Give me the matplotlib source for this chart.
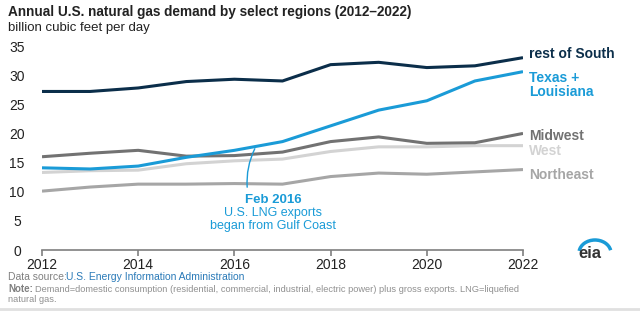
import matplotlib.pyplot as plt
import numpy as np
from matplotlib.patches import Arc

plt.rcParams['font.family'] = ['Liberation Sans', 'DejaVu Sans']

# datos (bcf/d)
anios = [2012, 2013, 2014, 2015, 2016, 2017, 2018, 2019, 2020, 2021, 2022]
resto_sur = [27.2, 27.2, 27.8, 28.9, 29.3, 29.0, 31.8, 32.2, 31.3, 31.6, 33.0]
texas_louisiana = [14.1, 13.9, 14.4, 15.9, 17.1, 18.6, 21.3, 24.0, 25.6, 29.0, 30.6]
medio_oeste = [16.0, 16.6, 17.1, 16.1, 16.2, 16.8, 18.6, 19.4, 18.3, 18.4, 20.0]
oeste = [13.3, 13.6, 13.7, 14.8, 15.3, 15.6, 16.9, 17.7, 17.7, 17.9, 17.9]
noreste = [10.1, 10.8, 11.3, 11.3, 11.4, 11.3, 12.6, 13.2, 13.0, 13.4, 13.8]
ticks_x = [2012, 2014, 2016, 2018, 2020, 2022]
ticks_y = [0, 5, 10, 15, 20, 25, 30, 35]

c_sur = '#0b2e4a'
c_tx = '#1a9bd7'
c_mw = '#727272'
c_w = '#d3d3d3'
c_ne = '#a6a6a6'

fig = plt.figure(figsize=(6.4, 3.14), dpi=100)
ax = fig.add_axes([42/640, 1-250/314, (523-42)/640, (250-46)/314])

ax.plot(anios, noreste, color=c_ne, lw=2.2, solid_capstyle='butt')
ax.plot(anios, oeste, color=c_w, lw=2.2, solid_capstyle='butt')
ax.plot(anios, medio_oeste, color=c_mw, lw=2.2, solid_capstyle='butt')
ax.plot(anios, texas_louisiana, color=c_tx, lw=2.2, solid_capstyle='butt')
ax.plot(anios, resto_sur, color=c_sur, lw=2.2, solid_capstyle='butt')

ax.set_xlim(2012, 2022)
ax.set_ylim(0, 35)
ax.set_xticks(ticks_x)
ax.set_yticks(ticks_y)
for s in ['top', 'right', 'left']:
    ax.spines[s].set_visible(False)
ax.spines['bottom'].set_color('#7f7f7f')
ax.spines['bottom'].set_linewidth(1.2)
ax.tick_params(axis='y', length=0, pad=18, labelsize=10, labelcolor='#222222')
ax.tick_params(axis='x', length=4, color='#7f7f7f', width=1.2, pad=2, labelsize=10, labelcolor='#222222')
for lb in ax.get_yticklabels():
    lb.set_horizontalalignment('center')

# etiquetas a la derecha
kw = dict(fontsize=10, fontweight='bold', va='center', ha='left', clip_on=False)
ax.text(2022.12, 33.6, 'rest of South', color=c_sur, **kw)
ax.text(2022.12, 28.3, 'Texas +\nLouisiana', color=c_tx, linespacing=1.05, **kw)
ax.text(2022.12, 19.5, 'Midwest', color=c_mw, **kw)
ax.text(2022.12, 16.9, 'West', color=c_w, **kw)
ax.text(2022.12, 12.9, 'Northeast', color=c_ne, **kw)

# anotacion
ax.annotate('', xy=(2016.45, 17.8), xytext=(2016.27, 10.3),
            arrowprops=dict(arrowstyle='-', color=c_tx, lw=1,
                            connectionstyle='arc3,rad=-0.15'))
ax.text(2016.8, 8.6, 'Feb 2016', color=c_tx, fontsize=9.5, fontweight='bold',
        ha='center', va='center')
ax.text(2016.8, 5.2, 'U.S. LNG exports\nbegan from Gulf Coast', color=c_tx,
        fontsize=9, ha='center', va='center', linespacing=1.1)

# titulos
fig.text(8/640, 1-12/314, 'Annual U.S. natural gas demand by select regions (2012\u20132022)',
         fontsize=9.8, fontweight='bold', color='#222222', va='center')
fig.text(8/640, 1-28/314, 'billion cubic feet per day', fontsize=9.5,
         color='#222222', va='center')

# pie
fig.text(8/640, 1-277/314, 'Data source:', fontsize=7.5, color='#808080', va='center')
fig.text(66/640, 1-277/314, 'U.S. Energy Information Administration', fontsize=7.5,
         color='#2a7ab8', va='center')
fig.text(8/640, 1-289/314, 'Note:', fontsize=7, color='#808080', fontweight='bold', va='center')
fig.text(35/640, 1-289/314, 'Demand=domestic consumption (residential, commercial, industrial, '
         'electric power) plus gross exports. LNG=liquefied', fontsize=6.7,
         color='#909090', va='center')
fig.text(8/640, 1-300/314, 'natural gas.', fontsize=6.7, color='#909090', va='center')
fig.add_artist(plt.Line2D([0, 1], [1-309/314, 1-309/314], color='#e0e0e0', lw=2))

# logo eia
fig.text(590/640, 1-254/314, 'eia', fontsize=12, fontweight='bold', color='#333333',
         ha='center', va='center')
logo = Arc((595/640, 1-253/314), 32/640, 26/314, theta1=20, theta2=165,
           transform=fig.transFigure, color=c_tx, lw=2.5)
fig.add_artist(logo)

fig.savefig('out.png', dpi=100)
